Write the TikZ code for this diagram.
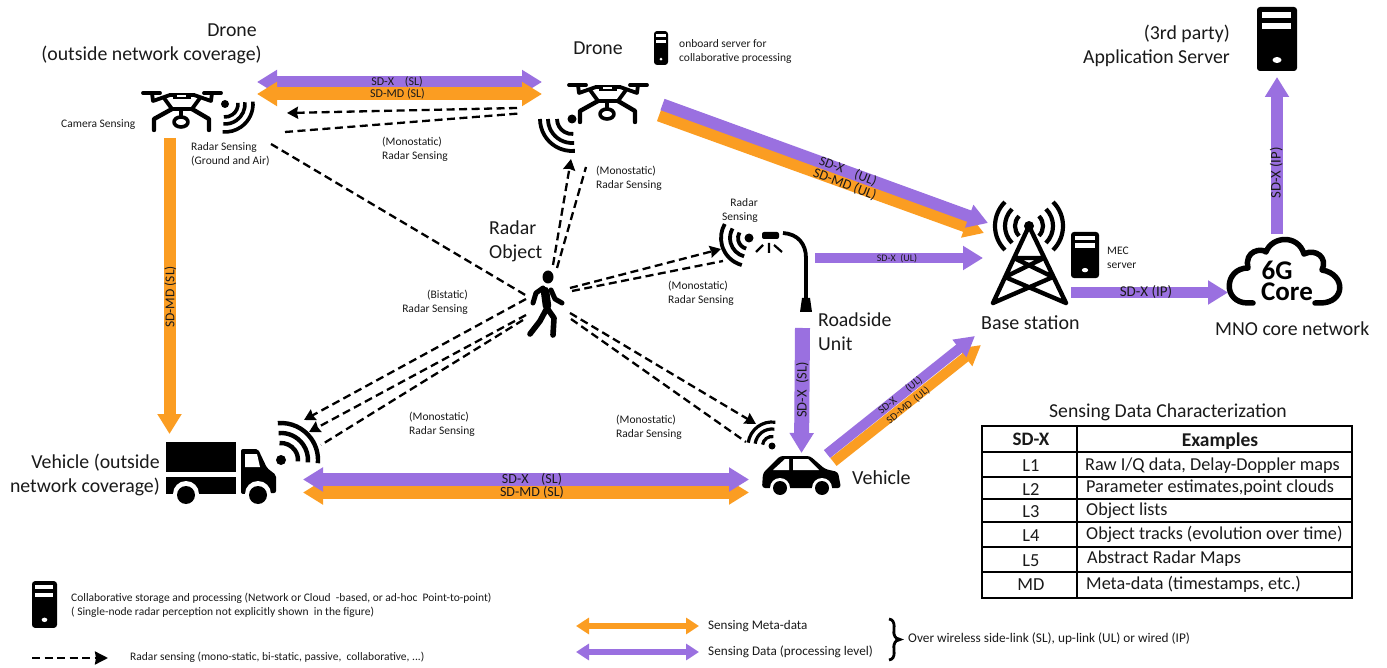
\documentclass[tikz,border=0pt]{standalone}
\usepackage{fontspec}
\setmainfont{Carlito}
\usetikzlibrary{arrows.meta}
\definecolor{purp}{HTML}{9A70E0}
\definecolor{orng}{HTML}{FB9D22}
\definecolor{ink}{HTML}{1A1A1A}
\newcommand\fz[2]{\fontsize{#1}{#2}\selectfont}
\newcommand\radarwaves[6]{%
  \fill[black] (#1) circle (#6pt);
  \foreach \rr in {#5} {\draw[black,line width=#4pt] (#1) ++(#2:\rr pt) arc[start angle=#2,end angle=#3,radius=\rr pt];}
}
\tikzset{
  lab/.style={inner sep=0pt,text=ink,align=left},
  one/.style={inner sep=0pt,text=ink,font=\fz{#1}{#1},text height={#1*0.64pt},text depth=0pt},
  small/.style={font=\fz{11.5}{14}},
  mid/.style={font=\fz{19.8}{24}},
  fatp/.style={draw=purp,line width=#1pt},
  fato/.style={draw=orng,line width=#1pt},
  tipE/.style={-{Triangle[length=20pt,width=23pt]}},
  tipB/.style={{Triangle[length=20pt,width=23pt]}-{Triangle[length=20pt,width=23pt]}},
  tipL/.style={{Triangle[length=13pt,width=16pt]}-{Triangle[length=13pt,width=16pt]}},
  tipS/.style={-{Triangle[length=20pt,width=21pt]}},
  sense/.style={draw=black,line width=2.3pt,dash pattern=on 8pt off 4.5pt},
  sensea/.style={sense,-{Stealth[length=11pt,width=12pt,inset=1pt]}},
  serverpic/.pic={
    \begin{scope}[yscale=-1]
    \fill[black,rounded corners=3pt] (-20,-32) rectangle (20,32);
    \fill[white] (-15,-27) rectangle (14,-21);
    \fill[white] (-15,-16) rectangle (14,-10);
    \fill[white] (0,21) ellipse (4.5 and 3);
    \end{scope}
  },
  dronepic/.pic={
    \begin{scope}[yscale=-1,shift={(-182,-112)},line cap=round,line join=round,draw=black]
      \draw[line width=3.8pt] (143,93)--(160,93) (204,93)--(221,93);
      \draw[line width=3.8pt] (152,93)--(153,101)--(170,95)--(194,95)--(211,101)--(212,93);
      \draw[line width=3.8pt] (164,98)--(172,109)--(192,109)--(200,98);
      \fill[black] (173,93) rectangle (191,99);
      \fill[white] (177,95) rectangle (186,97.5);
      \draw[line width=4.4pt] (154,130)--(154,119)--(172,109) (209,130)--(209,119)--(192,109);
      \draw[line width=3.6pt] (181,122) ellipse (7 and 5);
      \draw[line width=3.6pt] (181,109)--(181,116);
    \end{scope}
  }
}
\begin{document}
\begin{tikzpicture}[x=1pt,y=1pt,yscale=-1]
\useasboundingbox (0,0) rectangle (1387,668);
\fill[white] (0,0) rectangle (1387,668);

% ---- connector end points
\coordinate (aL) at (257,82); \coordinate (aR) at (542,82);
\coordinate (bL) at (257,94); \coordinate (bR) at (542,94);
\coordinate (ulxS) at (662.5,104.5); \coordinate (ulxE) at (988,223);
\coordinate (ulmS) at (659,115.5); \coordinate (ulmE) at (984,233);
\coordinate (rsuS) at (815,258); \coordinate (rsuE) at (983,258);
\coordinate (ipS) at (1071,292.5); \coordinate (ipE) at (1228,292.5);
\coordinate (apS) at (1277,234); \coordinate (apE) at (1277,77);
\coordinate (vdS) at (169.5,138); \coordinate (vdE) at (169.5,434);
\coordinate (vrS) at (802.5,328); \coordinate (vrE) at (801.5,453);
\coordinate (vcxS) at (827,454); \coordinate (vcxE) at (975,336);
\coordinate (vcmS) at (833.5,462); \coordinate (vcmE) at (981,345);
\coordinate (lxL) at (303,479.5); \coordinate (lxR) at (749,479.5);
\coordinate (lmL) at (303,492.5); \coordinate (lmR) at (749,492.5);
\coordinate (kmL) at (576,626); \coordinate (kmR) at (699,626);
\coordinate (kdL) at (576,652); \coordinate (kdR) at (699,652);
\coordinate (kaL) at (32,658); \coordinate (kaR) at (108,658);
% radar lines
\coordinate (d2a) at (517,108); \coordinate (d1a) at (287,113);
\coordinate (d1b) at (285,132); \coordinate (d2b) at (519,113.5);
\coordinate (d1c) at (271,144); \coordinate (pA) at (527,296);
\coordinate (pB) at (553,265); \coordinate (d2c) at (571,159);
\coordinate (pC) at (557,268); \coordinate (d2d) at (586,167);
\coordinate (pD) at (570,288); \coordinate (lpa) at (721,249);
\coordinate (pE) at (572,291); \coordinate (lpb) at (723,261);
\coordinate (pF) at (526,299); \coordinate (ta) at (304,420);
\coordinate (pG) at (526,315); \coordinate (tb) at (309,432);
\coordinate (pH) at (523,320); \coordinate (tc) at (321,445);
\coordinate (pI) at (570,313); \coordinate (ca) at (756,424);
\coordinate (pJ) at (571,319); \coordinate (cb) at (746,442);

% ---- fat connectors
\draw[fatp=12,tipB] (aL) -- (aR);
\draw[fato=13,tipB] (bL) -- (bR);
\draw[fato=12,tipE] (ulmS) -- (ulmE);
\draw[fatp=12,tipE] (ulxS) -- (ulxE);
\draw[fatp=10,tipE] (rsuS) -- (rsuE);
\draw[fatp=11,tipE] (ipS) -- (ipE);
\draw[fatp=12,tipE] (apS) -- (apE);
\draw[fato=12,tipE] (vdS) -- (vdE);
\draw[fatp=15,tipE] (vrS) -- (vrE);
\draw[fato=10,tipS] (vcmS) -- (vcmE);
\draw[fatp=10,tipS] (vcxS) -- (vcxE);
\draw[fato=13,tipB] (lmL) -- (lmR);
\draw[fatp=13,tipB] (lxL) -- (lxR);
\draw[fato=6,tipL] (kmL) -- (kmR);
\draw[fatp=6,tipL] (kdL) -- (kdR);

% ---- radar sensing connectors
\draw[sensea] (d2a) -- (d1a);
\draw[sense] (d1b) -- (d2b);
\draw[sense] (d1c) -- (pA);
\draw[sensea] (pB) -- (d2c);
\draw[sense] (pC) -- (d2d);
\draw[sensea] (pD) -- (lpa);
\draw[sense] (pE) -- (lpb);
\draw[sensea] (pF) -- (ta);
\draw[sensea] (pG) -- (tb);
\draw[sense] (pH) -- (tc);
\draw[sensea] (pI) -- (ca);
\draw[sense] (pJ) -- (cb);
\draw[sense,-{Stealth[length=13pt,width=13pt,inset=1pt]}] (kaL) -- (kaR);

% ---- icons
\pic at (182,112) {dronepic};
\pic at (608,104) {dronepic};
\coordinate (wd1) at (225,104); \radarwaves{wd1}{-5}{95}{3.6}{13,20,28}{4}
\coordinate (wd2) at (572,119); \radarwaves{wd2}{180}{85}{3.8}{15,24,32}{4.5}
\coordinate (wtr) at (281,460); \radarwaves{wtr}{-95}{5}{4.4}{17,27,37}{5}
\coordinate (wca) at (772,446); \radarwaves{wca}{188}{278}{3.2}{9.5,17,24}{3.5}
\coordinate (wla) at (749,238); \radarwaves{wla}{105}{210}{3.8}{11,19,28}{4.5}

\pic at (1277,39) {serverpic};
\pic[xscale=.35,yscale=.53] at (661,48) {serverpic};
\pic[xscale=.7,yscale=.72] at (1085,255) {serverpic};
\pic[xscale=.625,yscale=.73] at (44.5,604.5) {serverpic};

% truck
\fill[black] (166,442) rectangle (236,472);
\fill[black] (166,477) rectangle (236,494);
\fill[black,rounded corners=2pt] (241,449) -- (258,449) -- (267,468) -- (276,475) -- (276,493) -- (241,494) -- cycle;
\fill[white] (245,454) -- (257,454) -- (260,467) -- (245,467) -- cycle;
\fill[white] (186,494) circle (13) (258,494) circle (13);
\fill[black] (186,495) circle (9) (258,495) circle (9);

% car
\fill[black,rounded corners=3pt] (762,488) -- (763,473) -- (780,456) -- (810,456) -- (825,469) -- (838,472) -- (841,488) -- cycle;
\fill[white] (773,470) -- (785,459) -- (789,459) -- (789,470) -- cycle;
\fill[white] (793,459) -- (808,459) -- (819,470) -- (793,470) -- cycle;
\fill[white] (780,488) circle (10) (822,488) circle (10);
\fill[black] (780,488) circle (7) (822,488) circle (7);

% person
\fill[black] (548,277) ellipse (5.5 and 6.5);
\draw[black,line width=8.5pt,line cap=round] (545,291) -- (547,306);
\draw[black,line width=5pt,line cap=round,line join=round] (543,288) -- (536,293) -- (533,303) (551,290) -- (555,299) -- (562,303);
\draw[black,line width=5.6pt,line cap=round,line join=round] (547,308) -- (540,321) -- (530,334) (547,308) -- (554,318) -- (553,335);

% lamp
\draw[black,line width=3.8pt] (783,233) .. controls (798,234) and (806,244) .. (806,258) -- (806,298);
\fill[black] (802,298) -- (810,298) -- (812,312) -- (800,312) -- cycle;
\fill[black,rounded corners=2pt] (762,232) rectangle (779,239);
\draw[black,line width=2.2pt] (769,243) -- (769,253) (763,245) -- (756,252) (774,245) -- (782,252);

% tower
\coordinate (wbs) at (1029,226);
\fill[black] (wbs) circle (5);
\foreach \rr in {14,24,34} {
  \draw[black,line width=4.2pt] (wbs) ++(135:\rr pt) arc[start angle=135,end angle=225,radius=\rr pt];
  \draw[black,line width=4.2pt] (wbs) ++(-45:\rr pt) arc[start angle=-45,end angle=45,radius=\rr pt];
}
\draw[black,line width=4.4pt,line join=round,line cap=round] (993,303) -- (1029,226) -- (1066,303)
  (1014,258) -- (1044,258) (1014,258) -- (1053,277) (1044,258) -- (1005,277) (1005,277) -- (1066,303) (1053,277) -- (993,303);

% cloud
\draw[black,line width=5.5pt,line cap=round,line join=round]
  (1253,303) -- (1248,303) .. controls (1222,303) and (1224,268) .. (1248,268)
  .. controls (1244,250) and (1262,248) .. (1266,252)
  .. controls (1272,236) and (1298,234) .. (1304,254)
  .. controls (1316,248) and (1328,258) .. (1322,270)
  .. controls (1346,274) and (1346,303) .. (1320,303) -- (1315,303);
\node[inner sep=0pt,font=\bfseries\fz{27}{27}] (six) at (1277,270) {6G};
\node[inner sep=0pt,font=\bfseries\fz{27}{27}] (core) at (1287,292) {Core};

% ---- arrow labels
\node[one=12] (s1) at (397,82) {SD-X~~~~(SL)};
\node[one=12] (s2) at (397.5,94) {SD-MD (SL)};
\node[one=13.5,rotate=-21] (s3) at (848,171) {SD-X~~~~(UL)};
\node[one=14,rotate=-21] (s4) at (845,184) {SD-MD (UL)};
\node[one=10] (s5) at (897,258) {SD-X~~(UL)};
\node[one=15] (s6) at (1146,292) {SD-X (IP)};
\node[one=14.7,rotate=90] (s7) at (1276,173) {SD-X (IP)};
\node[one=13.5,rotate=90] (s8) at (170,297) {SD-MD (SL)};
\node[one=14.5,rotate=90] (s9) at (802,390) {SD-X~~(SL)};
\node[one=10.8,rotate=39] (s10) at (900,395) {SD-X~~~~~~(UL)};
\node[one=10.5,rotate=39] (s11) at (908,405) {SD-MD~~(UL)};
\node[one=14] (s12) at (532,479) {SD-X~~~~(SL)};
\node[one=14] (s13) at (532,492) {SD-MD (SL)};

% ---- labels
\node[lab,mid,align=center] (t1) at (232,30) {Drone};
\node[lab,mid,align=center] (t2) at (151.5,55) {(outside network coverage)};
\node[one=11.5,anchor=west] (t3) at (61,124) {Camera Sensing};
\node[lab,small,anchor=west] (t4) at (191,154) {Radar Sensing\\(Ground and Air)};
\node[lab,small,anchor=west] (t5) at (382,149) {(Monostatic)\\Radar Sensing};
\node[lab,mid] (t6) at (598,48) {Drone};
\node[lab,small,anchor=west] (t7) at (679,51) {onboard server for\\collaborative processing};
\node[lab,small,anchor=west] (t8) at (596,178) {(Monostatic)\\Radar Sensing};
\node[lab,mid,anchor=west] (t9) at (489,241) {Radar\\Object};
\node[lab,small,anchor=east,align=right] (t10) at (758,210) {Radar\\Sensing};
\node[lab,small,anchor=west] (t11) at (668,293) {(Monostatic)\\Radar Sensing};
\node[lab,small,anchor=east,align=right] (t12) at (468,302) {(Bistatic)\\Radar Sensing};
\node[lab,small,anchor=west] (t13) at (409,424) {(Monostatic)\\Radar Sensing};
\node[lab,small,anchor=west] (t14) at (616,427) {(Monostatic)\\Radar Sensing};
\node[lab,mid,anchor=west] (t15) at (818,332) {Roadside\\Unit};
\node[one=20,anchor=west] (t16) at (981,323) {Base station};
\node[lab,small,anchor=west] (t17) at (1107,258) {MEC\\server};
\node[one=19.8,anchor=west] (t18) at (1215,329) {MNO core network};
\node[lab,mid,anchor=east,align=right] (t19) at (1230,46) {(3rd party)\\Application Server};
\node[lab,mid,anchor=east,align=right] (t20) at (160,475) {Vehicle (outside\\network coverage)};
\node[one=20,anchor=west] (t21) at (852,478) {Vehicle};
\node[one=19.7] (t22) at (1168,411) {Sensing Data Characterization};
\node[lab,small,anchor=west] (t23) at (71,605) {Collaborative storage and processing (Network or Cloud~~-based, or ad-hoc~~Point-to-point)\\( Single-node radar perception not explicitly shown~~in the figure)};
\node[one=11.5,anchor=west] (t24) at (130,657) {Radar sensing (mono-static, bi-static, passive,~~collaborative, ...)};
\node[one=13.1,anchor=west] (t25) at (708,625) {Sensing Meta-data};
\node[one=13.2,anchor=west] (t26) at (708,651) {Sensing Data (processing level)};
\node[one=13.3,anchor=west] (t27) at (908,638) {Over wireless side-link (SL), up-link (UL) or wired (IP)};
\draw[black,line width=2.8pt] (889,619) .. controls (897,620) and (893,632) .. (894,634) .. controls (895,638) and (897,639) .. (900,639.5)
  .. controls (897,640) and (895,641) .. (894,645) .. controls (893,648) and (897,659) .. (889,660);

% ---- table
\draw[black,line width=2pt] (982,426) rectangle (1352,598);
\foreach \yy in {477,499,522,547,572} {\draw[black,line width=1.2pt] (982,\yy) -- (1352,\yy);}
\draw[black,line width=1.6pt] (982,452) -- (1352,452);
\draw[black,line width=1.2pt] (1077,426) -- (1077,598);
\node[one=19,font=\bfseries\fz{19}{20}] (h1) at (1031,439) {SD-X};
\node[one=19.5,font=\bfseries\fz{19.5}{20}] (h2) at (1220,440) {Examples};
\node[one=18.4] (c1) at (1031,466) {L1};
\node[one=18.4] (c2) at (1031,490) {L2};
\node[one=18.4] (c3) at (1031,512) {L3};
\node[one=18.4] (c4) at (1031,536) {L4};
\node[one=18.4] (c5) at (1031,561) {L5};
\node[one=18.4] (c6) at (1031,585) {MD};
\node[one=18.2,anchor=west] (e1) at (1085,465) {Raw I/Q data, Delay-Doppler maps};
\node[one=18.2,anchor=west] (e2) at (1086,487) {Parameter estimates,point clouds};
\node[one=18.2,anchor=west] (e3) at (1086,510) {Object lists};
\node[one=18.2,anchor=west] (e4) at (1086,534) {Object tracks (evolution over time)};
\node[one=18.2,anchor=west] (e5) at (1087,558) {Abstract Radar Maps};
\node[one=18.2,anchor=west] (e6) at (1086,584) {Meta-data (timestamps, etc.)};
\end{tikzpicture}
\end{document}
